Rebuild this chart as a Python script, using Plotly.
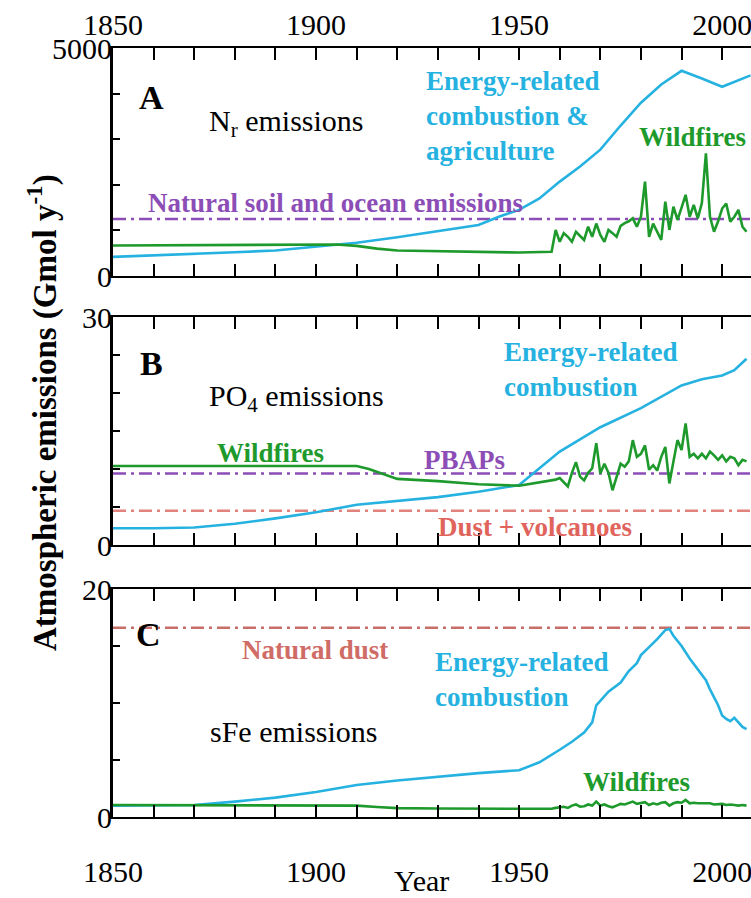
import plotly.graph_objects as go

# ---------------- data ----------------
# Panel A: reactive nitrogen (Gmol/yr)
a_energy_years = [1850, 1860, 1870, 1880, 1890, 1900, 1910, 1920, 1930, 1940, 1945, 1950,
                  1955, 1960, 1965, 1970, 1975, 1980, 1985, 1990, 1995, 2000, 2007]
a_energy_vals = [420, 450, 480, 520, 560, 650, 730, 850, 980, 1120, 1300, 1450,
                 1700, 2070, 2400, 2770, 3300, 3800, 4200, 4500, 4330, 4150, 4400]

a_fire_years = [1850, 1900, 1905, 1910, 1915, 1920, 1930, 1940, 1950, 1958,
                1959, 1960, 1961, 1962, 1963, 1964, 1965, 1966, 1967, 1968, 1969,
                1970, 1971, 1972, 1973, 1974, 1975, 1976, 1977, 1978, 1979,
                1980, 1981, 1982, 1983, 1984, 1985, 1986, 1987, 1988, 1989,
                1990, 1991, 1992, 1993, 1994, 1995, 1996, 1997, 1998, 1999,
                2000, 2001, 2002, 2003, 2004, 2005, 2006]
a_fire_vals = [670, 680, 690, 660, 600, 560, 545, 535, 515, 530,
               1010, 750, 940, 860, 750, 970, 880, 790, 1080, 860, 1150,
               900, 750, 1010, 940, 860, 1100, 1160, 1200, 1265, 1080,
               1300, 2070, 860, 1150, 950, 790, 1630, 1010, 1520, 1230,
               1500, 1780, 1300, 1560, 1265, 1600, 2690, 1300, 970, 1200,
               1480, 1590, 1190, 1300, 1450, 1080, 970]
a_natural = 1250

# Panel B: PO4 (Gmol/yr)
b_energy_years = [1850, 1860, 1870, 1880, 1890, 1900, 1910, 1920, 1930, 1940, 1950,
                  1960, 1970, 1980, 1990, 1995, 2000, 2003, 2006]
b_energy_vals = [2.2, 2.2, 2.3, 2.8, 3.5, 4.3, 5.3, 5.8, 6.3, 7.0, 7.9,
                 12.3, 15.5, 18.0, 21.0, 21.8, 22.3, 23.0, 24.5]

b_fire_years = [1850, 1910, 1913, 1920, 1930, 1940, 1950, 1958,
                1959, 1960, 1961, 1962, 1963, 1964, 1965, 1966, 1967, 1968, 1969,
                1970, 1971, 1972, 1973, 1974, 1975, 1976, 1977, 1978, 1979,
                1980, 1981, 1982, 1983, 1984, 1985, 1986, 1987, 1988, 1989,
                1990, 1991, 1992, 1993, 1994, 1995, 1996, 1997, 1998, 1999,
                2000, 2001, 2002, 2003, 2004, 2005, 2006]
b_fire_vals = [10.4, 10.4, 10.0, 8.7, 8.4, 8.0, 7.8, 8.5,
               8.6, 8.8, 8.2, 7.7, 9.5, 10.9, 9.0, 8.5, 9.5, 10.1, 13.4,
               9.4, 10.7, 9.5, 7.2, 9.0, 10.7, 10.3, 11.0, 13.8, 11.6,
               12.0, 13.1, 9.9, 10.5, 9.8, 11.6, 12.9, 8.1, 11.0, 13.8,
               12.5, 16.0, 11.6, 12.0, 11.4, 12.0, 11.4, 12.3, 11.8, 11.2,
               11.8, 11.0, 11.6, 11.4, 10.5, 11.2, 11.0]
b_pbaps = 9.4
b_dust_volc = 4.5

# Panel C: soluble Fe (Gmol/yr)
c_energy_years = [1850, 1860, 1870, 1880, 1890, 1900, 1910, 1920, 1930, 1940, 1950,
                  1955, 1960, 1963, 1966, 1968, 1969, 1970, 1972, 1975, 1977, 1979,
                  1980, 1982, 1984, 1986, 1987, 1988, 1990, 1992, 1994, 1996, 1997,
                  1999, 2000, 2001, 2002, 2003, 2004, 2005, 2006]
c_energy_vals = [1.0, 1.0, 1.05, 1.35, 1.7, 2.2, 2.8, 3.2, 3.55, 3.85, 4.1,
                 4.8, 5.9, 6.6, 7.4, 8.3, 9.8, 10.2, 11.0, 11.8, 12.8, 13.5,
                 14.2, 14.9, 15.6, 16.4, 16.5, 15.9, 15.0, 13.9, 13.0, 12.0, 11.2,
                 9.8, 8.9, 8.6, 8.4, 8.7, 8.3, 7.9, 7.7]

c_fire_years = [1850, 1900, 1910, 1915, 1920, 1930, 1940, 1950, 1958,
                1959, 1960, 1961, 1962, 1963, 1964, 1965, 1966, 1967, 1968, 1969,
                1970, 1971, 1972, 1973, 1974, 1975, 1976, 1977, 1978, 1979,
                1980, 1981, 1982, 1983, 1984, 1985, 1986, 1987, 1988, 1989,
                1990, 1991, 1992, 1993, 1994, 1995, 1996, 1997, 1998, 1999,
                2000, 2001, 2002, 2003, 2004, 2005, 2006]
c_fire_vals = [1.05, 1.03, 1.0, 0.88, 0.78, 0.74, 0.72, 0.70, 0.72,
               0.8, 0.85, 0.9, 0.8, 1.0, 1.1, 0.9, 0.95, 1.1, 1.0, 1.35,
               1.0, 1.1, 0.95, 0.85, 1.0, 1.15, 1.1, 1.2, 1.35, 1.15,
               1.25, 1.3, 1.05, 1.2, 1.1, 1.25, 1.3, 1.0, 1.2, 1.3,
               1.25, 1.5, 1.2, 1.25, 1.2, 1.2, 1.15, 1.2, 1.1, 1.1,
               1.15, 1.05, 1.1, 1.05, 1.0, 1.05, 1.0]
c_natural_dust = 16.6

# axis ticks
x_tick_years = list(range(1850, 2010, 10))
x_tick_text = [str(y) if y % 50 == 0 else "" for y in x_tick_years]
a_yticks = [0, 1000, 2000, 3000, 4000, 5000]
b_yticks = [0, 5, 10, 15, 20, 25, 30]
c_yticks = [0, 5, 10, 15, 20]

X_RANGE = [1850, 2007.1]

# ---------------- styling ----------------
FONT = "Liberation Serif, Times New Roman, serif"
CYAN = "#26b2e0"
GREEN = "#1e9a2c"
PURPLE = "#8c4db6"
DUST_B = "#e2827c"
DUST_C = "#c86e68"
TXT_DUST_B = "#e0645c"
TXT_DUST_C = "#d06c66"

W, H = 751.0, 898.0
ML = 113.0
PW = W - ML

fig = go.Figure()


def line(x, y, color, xa, ya, width=2.6, dash="solid"):
    fig.add_trace(go.Scatter(x=x, y=y, mode="lines", xaxis=xa, yaxis=ya,
                             line=dict(color=color, width=width, dash=dash),
                             showlegend=False, hoverinfo="skip"))


def hline(val, color, xa, ya):
    line(X_RANGE, [val, val], color, xa, ya, width=2.6, dash="13px,5px,3px,5px")


# Panel A
hline(a_natural, PURPLE, "x", "y")
line(a_energy_years, a_energy_vals, CYAN, "x", "y")
line(a_fire_years, a_fire_vals, GREEN, "x", "y")
# Panel B
hline(b_pbaps, PURPLE, "x2", "y2")
hline(b_dust_volc, DUST_B, "x2", "y2")
line(b_energy_years, b_energy_vals, CYAN, "x2", "y2")
line(b_fire_years, b_fire_vals, GREEN, "x2", "y2")
# Panel C
hline(c_natural_dust, DUST_C, "x3", "y3")
line(c_energy_years, c_energy_vals, CYAN, "x3", "y3")
line(c_fire_years, c_fire_vals, GREEN, "x3", "y3")


def dom(top_px, bot_px):
    return [1 - bot_px / H, 1 - top_px / H]


xcommon = dict(range=X_RANGE, tickvals=x_tick_years, ticktext=x_tick_text,
               ticks="inside", ticklen=12, tickwidth=1.5, tickcolor="black",
               showline=True, linewidth=2, linecolor="black", mirror="allticks",
               showgrid=False, zeroline=False, automargin=False,
               ticklabeloverflow="allow",
               tickfont=dict(family=FONT, size=30, color="black"))
ycommon = dict(ticks="inside", ticklen=7, tickwidth=2, tickcolor="black",
               showline=True, linewidth=3, linecolor="black", mirror=False,
               showgrid=False, zeroline=False, automargin=False,
               ticklabelstandoff=-8, ticklabeloverflow="allow",
               tickfont=dict(family=FONT, size=30, color="black"))


def ylabels(vals):
    return [str(v) if v in (vals[0], vals[-1]) else "" for v in vals]


fig.update_layout(
    width=751, height=898,
    margin=dict(l=ML, r=0, t=0, b=0),
    paper_bgcolor="white", plot_bgcolor="white",
    showlegend=False,
    xaxis=dict(xcommon, domain=[0, 1], anchor="y", side="top", ticklabelstandoff=-1),
    xaxis2=dict(xcommon, domain=[0, 1], anchor="y2", showticklabels=False),
    xaxis3=dict(xcommon, domain=[0, 1], anchor="y3", side="bottom", ticklabelstandoff=27),
    yaxis=dict(ycommon, domain=dom(48, 276), anchor="x", range=[0, 5000],
               tickvals=a_yticks, ticktext=ylabels(a_yticks)),
    yaxis2=dict(ycommon, domain=dom(317, 545), anchor="x2", range=[0, 30],
                tickvals=b_yticks, ticktext=ylabels(b_yticks)),
    yaxis3=dict(ycommon, domain=dom(589, 817), anchor="x3", range=[0, 20],
                tickvals=c_yticks, ticktext=ylabels(c_yticks)),
)


def note(text, x, y, xa, ya, color="black", size=27, xanchor="center", align="center"):
    fig.add_annotation(text=text, x=x, y=y, xref=xa, yref=ya, showarrow=False,
                       xanchor=xanchor, yanchor="middle", align=align,
                       font=dict(family=FONT, size=size, color=color))


# Panel A labels
note("<b>A</b>", 1859.4, 3925, "x", "y", size=34)
note("N<sub>r</sub> emissions", 1892.6, 3355, "x", "y", size=30)
note("<b>Energy-related<br>combustion &amp;<br>agriculture</b>", 1926.6, 3509, "x", "y",
     color=CYAN, xanchor="left", align="left")
note("<b>Wildfires</b>", 1992.8, 3048, "x", "y", color=GREEN)
note("<b>Natural soil and ocean emissions</b>", 1904.8, 1601, "x", "y", color=PURPLE)

# Panel B labels
note("<b>B</b>", 1859.4, 23.9, "x2", "y2", size=34)
note("PO<sub>4</sub> emissions", 1895.3, 19.3, "x2", "y2", size=30)
note("<b>Energy-related<br>combustion</b>", 1945.9, 23.1, "x2", "y2",
     color=CYAN, xanchor="left", align="left")
note("<b>Wildfires</b>", 1888.8, 12.1, "x2", "y2", color=GREEN)
note("<b>PBAPs</b>", 1936.6, 11.2, "x2", "y2", color=PURPLE)
note("<b>Dust + volcanoes</b>", 1953.9, 2.37, "x2", "y2", color=TXT_DUST_B)

# Panel C labels
note("<b>C</b>", 1858.8, 15.97, "x3", "y3", size=34)
note("<b>Natural dust</b>", 1899.8, 14.65, "x3", "y3", color=TXT_DUST_C)
note("<b>Energy-related<br>combustion</b>", 1928.9, 12.06, "x3", "y3",
     color=CYAN, xanchor="left", align="left")
note("sFe emissions", 1894.5, 7.47, "x3", "y3", size=30)
note("<b>Wildfires</b>", 1978.8, 3.08, "x3", "y3", color=GREEN)

# shared axis titles (paper x is measured from the left edge of the plot area)
fig.add_annotation(text="<b>Atmospheric emissions (Gmol y<sup>-1</sup>)</b>",
                   x=(42 - ML) / PW, y=1 - 413 / H, xref="paper", yref="paper",
                   showarrow=False, textangle=-90, xanchor="center", yanchor="middle",
                   font=dict(family=FONT, size=33, color="black"))
fig.add_annotation(text="Year", x=(421 - ML) / PW, y=1 - 880 / H, xref="paper", yref="paper",
                   showarrow=False, xanchor="center", yanchor="middle",
                   font=dict(family=FONT, size=30, color="black"))

fig.write_html("out.html")
